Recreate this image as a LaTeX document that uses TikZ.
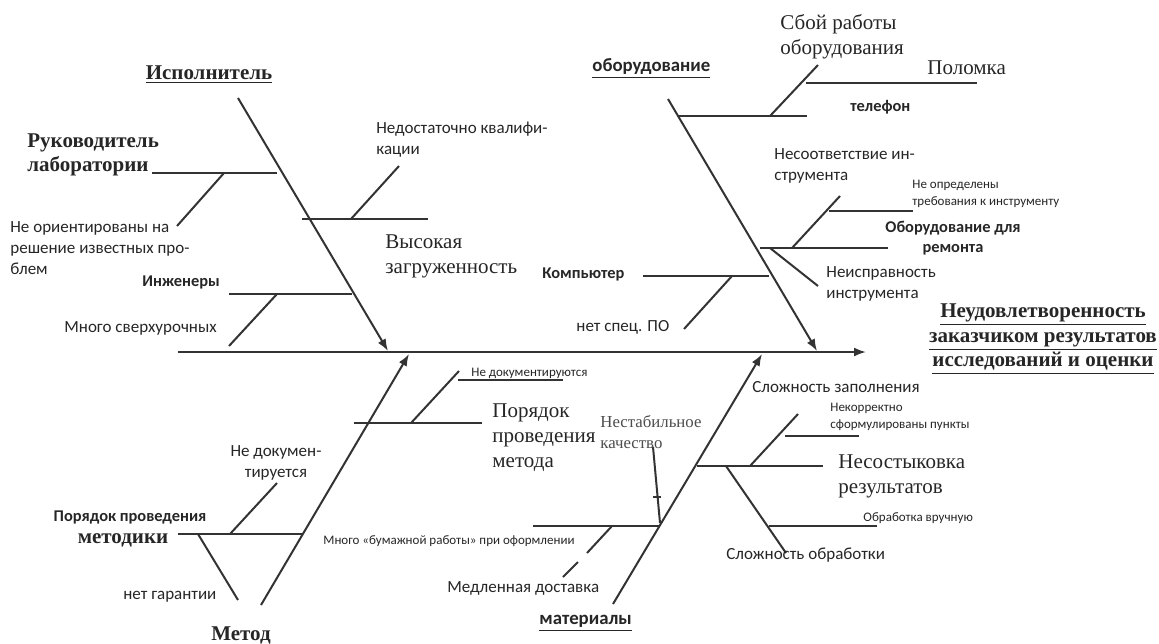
\documentclass[tikz,border=0pt]{standalone}
\usepackage{fontspec}
\setmainfont{Liberation Serif}
\newfontfamily\calfont{Carlito}
\usetikzlibrary{arrows.meta}

\begin{document}
\begin{tikzpicture}[x=0.5pt,y=-0.5pt,
  bone/.style={draw=black!80,line width=1pt},
  mainbone/.style={bone,-{Latex[length=6pt,width=4.5pt]}},
  every node/.style={inner sep=0pt,text=black!85},
  ser/.style={font=\fontsize{10.5}{12.5}\selectfont,align=left,anchor=west},
  serb/.style={font=\fontsize{10.5}{12.3}\selectfont\bfseries,align=center},
  txt/.style={font=\calfont\fontsize{8.5}{10.5}\selectfont,align=left,anchor=west},
  txtb/.style={font=\calfont\fontsize{8.2}{10}\selectfont\bfseries,align=left,anchor=west},
  smalltxt/.style={font=\calfont\fontsize{6.5}{8.5}\selectfont,align=left,anchor=west}]
\useasboundingbox (0,0) rectangle (1159,643);

% spine and the four main bones
\coordinate (tail) at (178,352);
\coordinate (head) at (866,352);
\draw[mainbone] (tail) -- (head);
\coordinate (isp0) at (238,98);   \coordinate (isp1) at (388,351);
\coordinate (obo0) at (668,99);   \coordinate (obo1) at (817,351);
\coordinate (met0) at (261,605);  \coordinate (met1) at (409,354);
\coordinate (mat0) at (613,604);  \coordinate (mat1) at (762,354);
\draw[mainbone] (isp0) -- (isp1);
\draw[mainbone] (obo0) -- (obo1);
\draw[mainbone] (met0) -- (met1);
\draw[mainbone] (mat0) -- (mat1);

% result
\node[serb] (result) at (1043,339) {\underline{Неудовлетворенность}\\\underline{заказчиком результатов}\\\underline{исследований и оценки}};

% Исполнитель
\node[serb] (isp) at (209,75) {\underline{Исполнитель}};
\draw[bone] (152,173) -- (277,173);
\draw[bone] (224,173) -- (177,226);
\node[serb,align=left,anchor=west] (ruk) at (27,155) {Руководитель\\лаборатории};
\node[txt] (neor) at (10,248) {Не ориентированы на\\решение известных про-\\блем};
\draw[bone] (302,219) -- (428,219);
\draw[bone] (351,219) -- (399,166);
\node[txt] (kval) at (376,140) {Недостаточно квалифи-\\кации};
\node[ser] (zagr) at (385,256) {Высокая\\загруженность};
\draw[bone] (229,294) -- (352,294);
\draw[bone] (277,294) -- (229,346);
\node[txtb] (ing) at (142,282) {Инженеры};
\node[txt] (sverh) at (64,328) {Много сверхурочных};

% оборудование
\node[txtb,font=\calfont\fontsize{9.4}{10}\selectfont\bfseries] (obo) at (592,69) {\underline{оборудование}};
\draw[bone] (678,116) -- (807,116);
\draw[bone] (770,116) -- (818,65);
\draw[bone] (806,83) -- (977,83);
\node[ser] (sboj) at (780,37) {Сбой работы\\оборудования};
\node[ser] (polom) at (927,68) {Поломка};
\node[txtb] (tel) at (850,107) {телефон};
\node[txt] (nesoot) at (774,166) {Несоответствие ин-\\струмента};
\draw[bone] (829,211) -- (913,211);
\node[smalltxt] (treb) at (912,194) {Не определены\\требования к инструменту};
\draw[bone] (760,248) -- (888,248);
\draw[bone] (792,248) -- (840,196);
\draw[bone] (770,248) -- (818,286);
\node[txtb,align=center,anchor=center] (remont) at (953,238) {Оборудование для\\ремонта};
\node[txt] (neispr) at (826,284) {Неисправность\\инструмента};
\draw[bone] (643,276) -- (769,276);
\draw[bone] (732,276) -- (684,329);
\node[txtb] (komp) at (542,274) {Компьютер};
\node[txt] (po) at (576,327) {нет спец. ПО};

% Метод
\node[serb] (met) at (241,635) {Метод};
\draw[bone] (354,423) -- (482,423);
\draw[bone] (411,423) -- (459,371);
\draw[bone] (458,380) -- (563,380);
\node[smalltxt] (nedok) at (471,373) {Не документируются};
\node[ser] (pormet) at (492,438) {Порядок\\проведения\\метода};
\draw[bone] (178,534) -- (303,534);
\draw[bone] (230,534) -- (277,483);
\draw[bone] (198,534) -- (238,600);
\node[txt,align=center,anchor=center] (nedok2) at (276,463) {Не докумен-\\тируется};
\node[txtb,anchor=center] (pormk) at (130,517) {Порядок проведения};
\node[serb] (metk) at (123,540) {методики};
\node[txt] (garant) at (123,597) {нет гарантии};

% материалы
\node[txtb,font=\calfont\fontsize{9.4}{10}\selectfont\bfseries] (mat) at (539,623) {\underline{материалы}};
\draw[bone] (533,526) -- (660,526);
\draw[bone] (612,526) -- (587,553);
\draw[bone] (578,562) -- (563,577);
\draw[bone] (653,447) -- (660,523);
\draw[bone] (653,497) -- (661,497);
\node[ser,font=\fontsize{8.4}{10.5}\selectfont,text=black!70] (nestab) at (600,432) {Нестабильное\\качество};
\node[smalltxt] (bumag) at (323,541) {Много «бумажной работы» при оформлении};
\node[txt] (dost) at (447,588) {Медленная доставка};
\node[txt] (zapoln) at (752,387) {Сложность заполнения};
\draw[bone] (697,466) -- (823,466);
\draw[bone] (750,466) -- (798,414);
\draw[bone] (785,436) -- (859,436);
\node[smalltxt] (nekorr) at (830,417) {Некорректно\\сформулированы пункты};
\node[ser] (nesost) at (838,476) {Несостыковка\\результатов};
\draw[bone] (726,466) -- (786,553);
\draw[bone] (769,526) -- (877,526);
\node[smalltxt] (vruch) at (863,518) {Обработка вручную};
\node[txt] (obrab) at (726,555) {Сложность обработки};
\end{tikzpicture}
\end{document}
